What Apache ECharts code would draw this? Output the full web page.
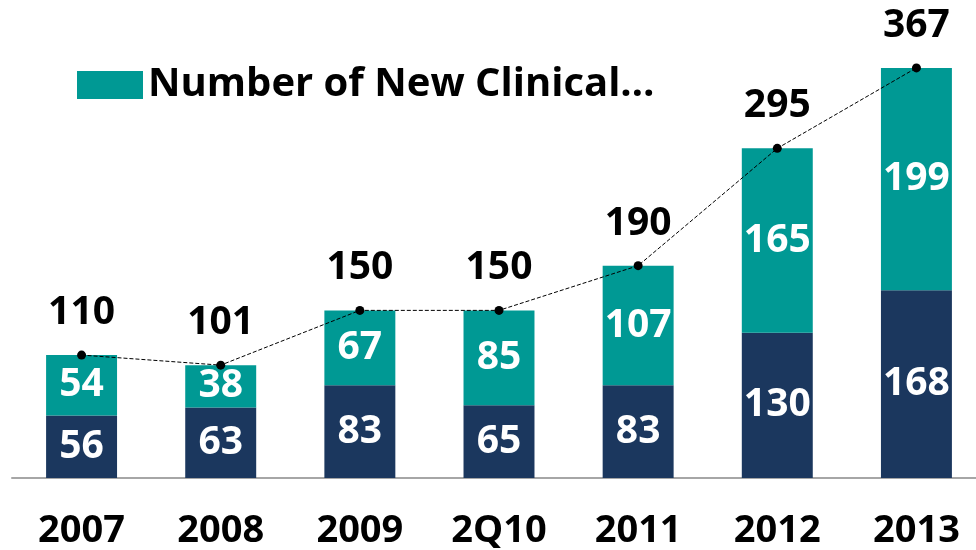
<!DOCTYPE html>
<html>
<head>
<meta charset="utf-8">
<script src="https://cdn.jsdelivr.net/npm/echarts@6/dist/echarts.min.js"></script>
<style>
    html, body { margin: 0; padding: 0; background: #fff; }
    #chart { width: 976px; height: 550px; }
</style>
</head>
<body>
<div id="chart"></div>
<script>
    var years = ['2007', '2008', '2009', '2Q10', '2011', '2012', '2013'];
    var baseValues = [56, 63, 83, 65, 83, 130, 168];
    var newValues = [54, 38, 67, 85, 107, 165, 199];
    var totalValues = [110, 101, 150, 150, 190, 295, 367];

    var font = '"Open Sans", "Liberation Sans", sans-serif';
    var navy = '#1b375e';
    var teal = '#009994';

    var myChart = echarts.init(document.getElementById('chart'));

    var option = {
        animation: false,
        textStyle: { fontFamily: font },
        grid: { left: 12, right: -10, top: 31, bottom: 72, outerBoundsMode: 'none' },
        legend: {
            data: ['Number of New Clinical…'],
            icon: 'rect',
            left: 72,
            top: 60,
            itemWidth: 66,
            itemHeight: 28,
            itemGap: 8,
            textStyle: { fontFamily: font, fontWeight: 'bold', fontSize: 40, color: '#000' }
        },
        xAxis: {
            type: 'category',
            data: years,
            axisTick: { show: false },
            axisLine: { lineStyle: { color: '#a6a6a6', width: 2 } },
            axisLabel: { fontFamily: font, fontWeight: 'bold', fontSize: 38, color: '#000', margin: 34 }
        },
        yAxis: {
            type: 'value',
            min: 0,
            max: 400,
            show: false,
            splitLine: { show: false }
        },
        series: [
            {
                name: 'base',
                type: 'bar',
                stack: 'total',
                barWidth: '51%',
                itemStyle: { color: navy },
                data: baseValues,
                label: { show: true, position: 'inside', color: '#fff', fontFamily: font, fontWeight: 'bold', fontSize: 39 }
            },
            {
                name: 'Number of New Clinical…',
                type: 'bar',
                stack: 'total',
                itemStyle: { color: teal },
                data: newValues,
                label: { show: true, position: 'inside', color: '#fff', fontFamily: font, fontWeight: 'bold', fontSize: 39 }
            },
            {
                // 总数折线
                name: 'total',
                type: 'line',
                data: totalValues,
                symbol: 'circle',
                symbolSize: 9,
                itemStyle: { color: '#000' },
                lineStyle: { color: '#000', width: 1, type: 'dashed' },
                label: { show: true, position: 'top', distance: 18, color: '#000', fontFamily: font, fontWeight: 'bold', fontSize: 39 }
            }
        ]
    };

    myChart.setOption(option);
</script>
</body>
</html>
